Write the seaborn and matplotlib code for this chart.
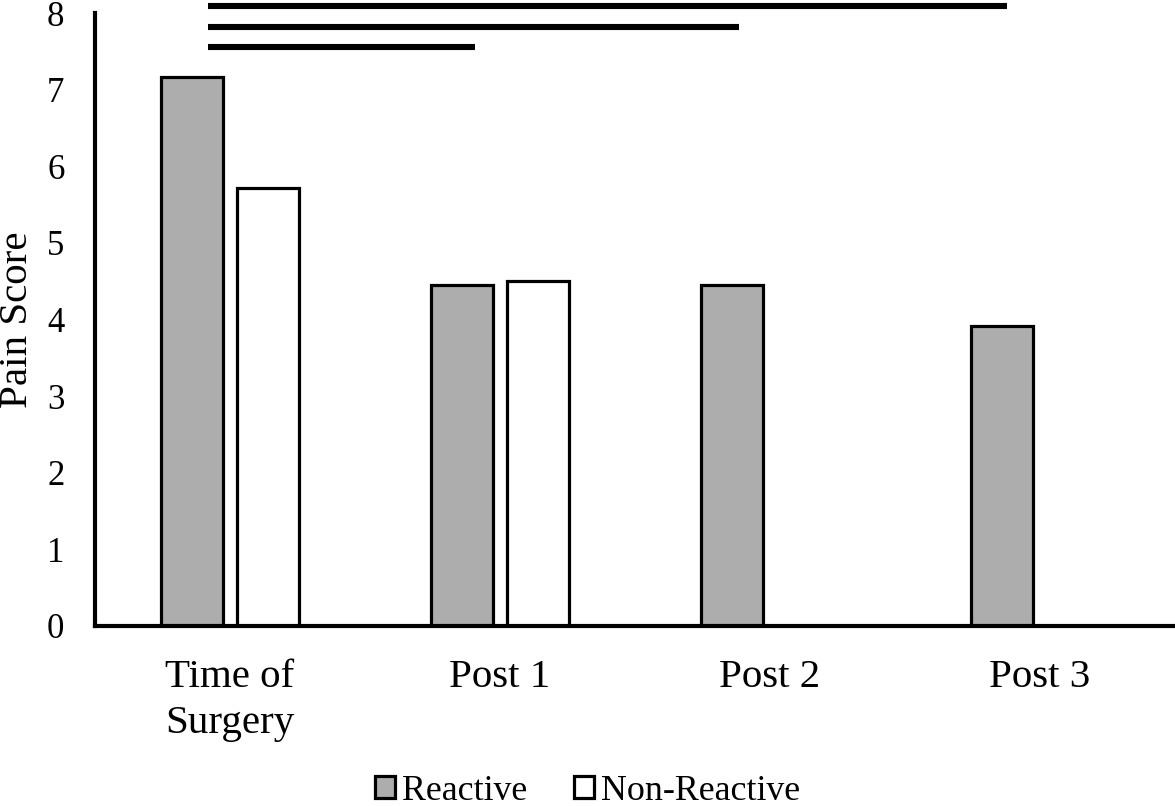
"""
Pain score by time point for reactive and non-reactive groups.
"""

import matplotlib.pyplot as plt
import numpy as np
import pandas as pd
import seaborn as sns
from matplotlib.patches import Patch


TIME_POINTS = ["Time of\nSurgery", "Post 1", "Post 2", "Post 3"]
GROUPS = ["Reactive", "Non-Reactive"]
REACTIVE = [7.17, 4.45, 4.45, 3.92]
NON_REACTIVE = [5.72, 4.50, np.nan, np.nan]

# significance bars: common start, one end per comparison (data units)
SIG_START = -0.08
SIG_ENDS = [2.876, 1.887, 0.906]
SIG_LEVELS = [8.09, 7.82, 7.56]

COLORS = {"Reactive": "#adadad", "Non-Reactive": "#ffffff"}


def build_frame():
    rows = []
    for group, values in zip(GROUPS, [REACTIVE, NON_REACTIVE]):
        for time_point, value in zip(TIME_POINTS, values):
            rows.append({"time": time_point, "group": group, "score": value})
    return pd.DataFrame(rows).dropna()


def main():
    sns.set_theme(style="white")
    plt.rcParams["font.family"] = ["Liberation Serif", "DejaVu Serif"]
    for key in ["text.color", "axes.labelcolor", "xtick.color", "ytick.color"]:
        plt.rcParams[key] = "black"

    df = build_frame()
    fig = plt.figure(figsize=(11.75, 8.06), dpi=100)
    ax = fig.add_axes([95 / 1175, 1 - 626 / 806, 1 - 95 / 1175, (626 - 13) / 806])

    sns.barplot(
        data=df,
        x="time",
        y="score",
        hue="group",
        order=TIME_POINTS,
        hue_order=GROUPS,
        palette=COLORS,
        errorbar=None,
        width=0.567,
        gap=0.19,
        edgecolor="black",
        linewidth=2.3,
        legend=False,
        ax=ax,
    )

    ax.hlines(SIG_LEVELS, SIG_START, SIG_ENDS, colors="black", linewidth=4.4, clip_on=False)

    ax.set_xlim(-0.5, 3.5)
    ax.set_ylim(0, 8)
    ax.set_yticks(range(0, 9))
    ax.tick_params(axis="y", length=0, pad=22, labelsize=25)
    ax.tick_params(axis="x", length=0, pad=24, labelsize=29.5)
    for label in ax.get_xticklabels():
        label.set_linespacing(1.3)
    ax.set_xlabel("")
    ax.set_ylabel("Pain Score", fontsize=29.5)
    ax.yaxis.set_label_coords(-0.0546, 0.5)

    sns.despine(ax=ax)
    for side in ["left", "bottom"]:
        ax.spines[side].set_linewidth(3)
        ax.spines[side].set_color("black")

    handles = [
        Patch(facecolor=COLORS[group], edgecolor="black", linewidth=2.3, label=group)
        for group in GROUPS
    ]
    fig.legend(
        handles=handles,
        loc="lower center",
        bbox_to_anchor=(0.5, -0.042),
        ncol=2,
        frameon=False,
        fontsize=25.8,
        handlelength=0.56,
        handleheight=0.56,
        handletextpad=0.2,
        columnspacing=1.3,
    )

    fig.savefig("out.png", dpi=100)
    plt.close(fig)


if __name__ == "__main__":
    main()
